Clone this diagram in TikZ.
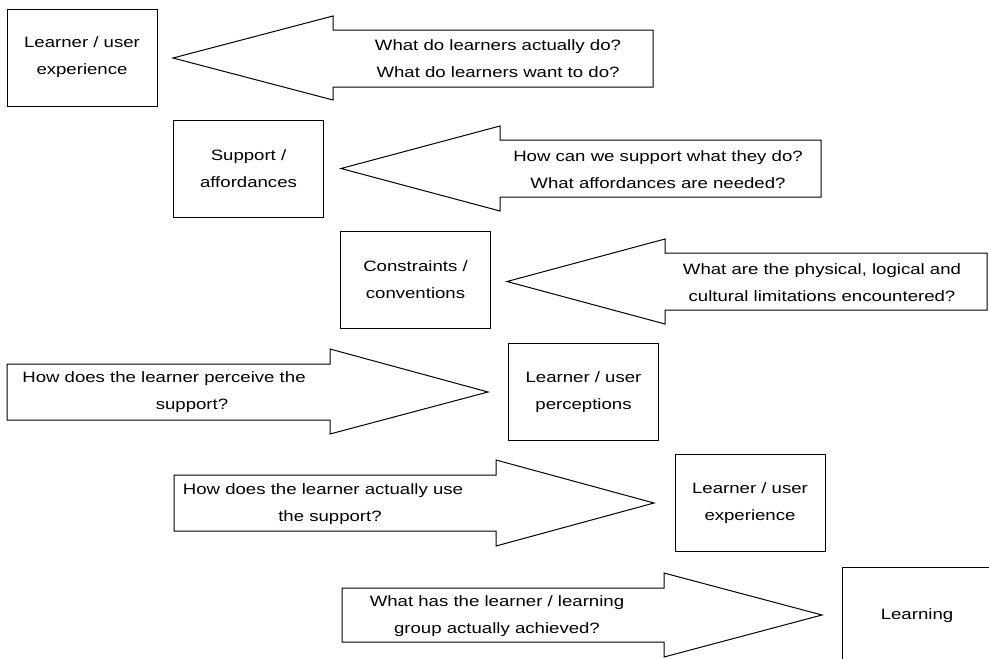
\documentclass[tikz,border=0pt]{standalone}
\usepackage{fontspec}
\setmainfont{Liberation Sans}[FakeStretch=1.24]
\newcommand\lblfont{\fontsize{15}{27}\selectfont}
\begin{document}
\begin{tikzpicture}[x=1pt,y=-1pt,
  box/.style={draw=black, line width=1pt, inner sep=0pt, align=center, font=\lblfont,
    minimum width=150, minimum height=97},
  blockarrow/.style={draw=black, line width=1pt, line join=miter, fill=white},
  lbl/.style={align=center, font=\lblfont, inner sep=0pt}]
\useasboundingbox (0,0) rectangle (989,659);
\clip (0,0) rectangle (989,659);
\fill[white] (0,0) rectangle (989,659);

% boxes
\node[box] (b1) at (82,57.5) {Learner / user\\experience};
\node[box] (b2) at (248.5,169) {Support /\\affordances};
\node[box] (b3) at (415.5,280) {Constraints /\\conventions};
\node[box] (b4) at (583.5,392) {Learner / user\\perceptions};
\node[box] (b5) at (750,503) {Learner / user\\experience};
\node[box] (b6) at (917,616) {Learning};

% left-pointing block arrows
\draw[blockarrow] (653,30) -- (333,30) -- (333,16) -- (173,58) -- (333,100) -- (333,87) -- (653,87) -- cycle;
\node[lbl] (t1) at (498,58.5) {What do learners actually do?\\What do learners want to do?};

\draw[blockarrow] (821,140) -- (500,140) -- (500,126) -- (341,168.5) -- (500,211) -- (500,197) -- (821,197) -- cycle;
\node[lbl] (t2) at (658,170) {How can we support what they do?\\What affordances are needed?};

\draw[blockarrow] (987,253) -- (665,253) -- (665,239) -- (507,281.5) -- (665,324) -- (665,310) -- (987,310) -- cycle;
\node[lbl] (t3) at (822,283) {What are the physical, logical and\\cultural limitations encountered?};

% right-pointing block arrows
\draw[blockarrow] (7,364) -- (330,364) -- (330,349) -- (488,392) -- (330,434) -- (330,420) -- (7,420) -- cycle;
\node[lbl] (t4) at (164,392) {How does the learner perceive the\\\hspace*{56pt}support?};

\draw[blockarrow] (174,475) -- (496,475) -- (496,460) -- (654,503) -- (496,546) -- (496,531) -- (174,531) -- cycle;
\node[lbl] (t5) at (323,504.5) {How does the learner actually use\\\hspace*{14pt}the support?};

\draw[blockarrow] (342,588) -- (664,588) -- (664,573) -- (822,615) -- (664,657) -- (664,642) -- (342,642) -- cycle;
\node[lbl] (t6) at (497,616) {What has the learner / learning\\group actually achieved?};
\end{tikzpicture}
\end{document}
